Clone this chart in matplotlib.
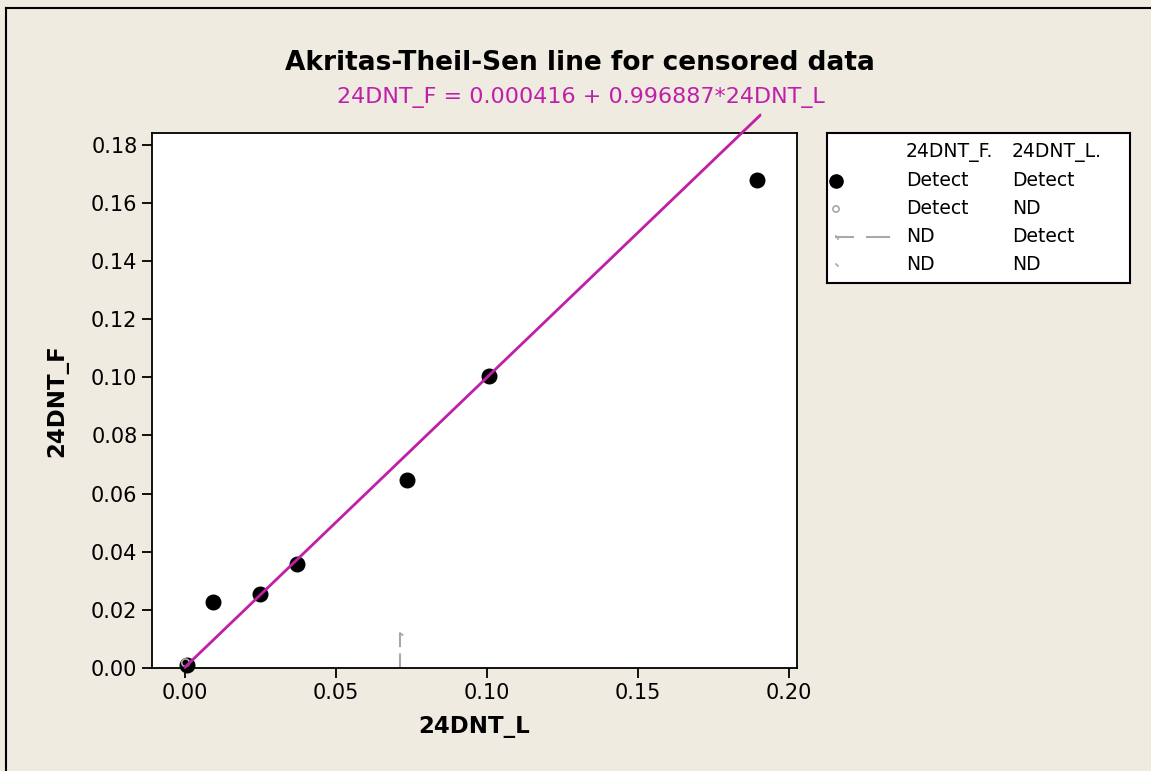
import matplotlib
matplotlib.use("Agg")
import matplotlib.pyplot as plt
from matplotlib.lines import Line2D

# detected pairs (24DNT_L, 24DNT_F)
det_x = [0.1894, 0.1007, 0.0735, 0.0371, 0.0248, 0.0093, 0.0007]
det_y = [0.1679, 0.1005, 0.0647, 0.0358, 0.0255, 0.0227, 0.0010]
# F detected, L non-detect
nd_l_x = [0.0002]
nd_l_y = [0.0018]
# F non-detect, L detected (drawn as an interval from 0 up to the limit)
nd_f_x = [0.0712]
nd_f_y = [0.0120]

intercept = 0.000416
slope = 0.996887
line_x = [0.0, 0.1904]

legend_rows = [("Detect", "Detect"), ("Detect", "ND"), ("ND", "Detect"), ("ND", "ND")]

BG = "#EFEBE1"
MAG = "#C020A8"
GREY = "#A8A8A8"

W, H = 1151, 771
fig = plt.figure(figsize=(W / 100, H / 100), dpi=100, facecolor=BG)
plt.rcParams["font.family"] = ["DejaVu Sans"]


def fx(px):
    return px / W


def fy(py):
    return 1 - py / H


# frame edges on the left and top
fig.add_artist(Line2D([fx(6), fx(6)], [fy(8), 0], color="black", lw=1.5))
fig.add_artist(Line2D([fx(6), 1], [fy(8), fy(8)], color="black", lw=1.5))

ax = fig.add_axes([fx(152), fy(668), fx(797) - fx(152), fy(133) - fy(668)])
ax.set_facecolor("white")
ax.set_xlim(-0.0109, 0.2026)
ax.set_ylim(0.0, 0.184)
ax.set_xticks([0.0, 0.05, 0.10, 0.15, 0.20])
ax.set_yticks([0.0, 0.02, 0.04, 0.06, 0.08, 0.10, 0.12, 0.14, 0.16, 0.18])
ax.xaxis.set_major_formatter(matplotlib.ticker.FormatStrFormatter("%.2f"))
ax.yaxis.set_major_formatter(matplotlib.ticker.FormatStrFormatter("%.2f"))
ax.tick_params(labelsize=15, length=7, width=1.3, color="black")
for s in ax.spines.values():
    s.set_linewidth(1.3)

ax.set_xlabel("24DNT_L", fontsize=16.5, fontweight="bold", labelpad=9)
ax.set_ylabel("24DNT_F", fontsize=16.5, fontweight="bold", labelpad=16)

# censored F: grey dashed interval with small cap
for x, y in zip(nd_f_x, nd_f_y):
    ax.plot([x, x], [0, y], color=GREY, lw=1.5, ls=(0, (7, 3)), clip_on=False)
    ax.plot([x, x + 0.0008], [y, y - 0.0006], color=GREY, lw=1.3)

ax.scatter(det_x, det_y, s=110, color="black", zorder=3, clip_on=False)
ax.scatter(nd_l_x, nd_l_y, s=30, facecolor="none", edgecolor=GREY, lw=1.2,
           zorder=4, clip_on=False)

ly = [intercept + slope * x for x in line_x]
ax.plot(line_x, ly, color=MAG, lw=1.6, zorder=5, clip_on=False)
ax.plot(line_x, [v - 0.0004 for v in ly], color=MAG, lw=1.2, zorder=5, clip_on=False)

fig.text(fx(580), fy(63), "Akritas-Theil-Sen line for censored data",
         fontsize=19, fontweight="bold", ha="center", va="center")
fig.text(fx(581), fy(97), "24DNT_F = 0.000416 + 0.996887*24DNT_L",
         fontsize=16, color=MAG, ha="center", va="center")

# legend panel
lg = fig.add_axes([fx(827), fy(283), fx(1130) - fx(827), fy(133) - fy(283)])
lg.set_xlim(827, 1130)
lg.set_ylim(283, 133)
lg.set_xticks([])
lg.set_yticks([])
lg.set_facecolor("white")
for s in lg.spines.values():
    s.set_linewidth(1.5)
LFS = 13.5
lg.text(906, 153, "24DNT_F.", fontsize=LFS, va="center")
lg.text(1012, 153, "24DNT_L.", fontsize=LFS, va="center")
row_y = [181, 209, 237, 265]
for (a, b), y in zip(legend_rows, row_y):
    lg.text(906, y, a, fontsize=LFS, va="center")
    lg.text(1012, y, b, fontsize=LFS, va="center")
lg.scatter([836], [row_y[0]], s=90, color="black", clip_on=False)
lg.scatter([836], [row_y[1]], s=20, facecolor="none", edgecolor=GREY, lw=1.2)
lg.plot([836, 853], [row_y[2], row_y[2]], color=GREY, lw=1.5)
lg.plot([867, 889], [row_y[2], row_y[2]], color=GREY, lw=1.5)
lg.plot([836, 838], [row_y[2] - 1, row_y[2] + 2], color=GREY, lw=1.2)
lg.plot([836, 838], [row_y[3] - 1, row_y[3] + 1], color=GREY, lw=1.2)

fig.savefig("out.png", dpi=100, facecolor=BG)
